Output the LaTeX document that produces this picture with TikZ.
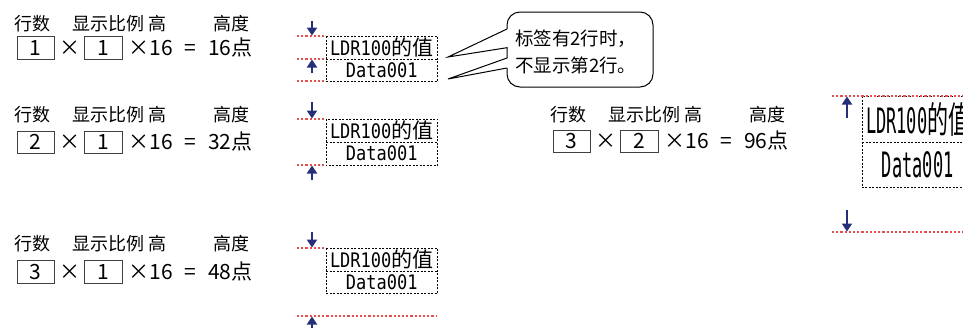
\documentclass[tikz,border=0pt]{standalone}
\usepackage{fontspec}
\usepackage{graphicx}
\usetikzlibrary{arrows.meta}
\setmainfont{Noto Sans CJK SC}
\newfontfamily\monofont{DejaVu Sans Mono}
\newfontfamily\cjkfont{Noto Sans CJK SC}
\definecolor{navy}{RGB}{38,48,120}
\definecolor{redd}{RGB}{230,80,80}
\tikzset{
  lbl/.style={inner sep=0pt, font=\fontsize{18}{20}\selectfont},
  num/.style={inner sep=0pt, font=\fontsize{21}{23}\selectfont, anchor=base},
  valbox/.style={draw=black!75, line width=0.9pt, inner sep=0pt},
  reddot/.style={draw=redd, line width=1.3pt, dash pattern=on 2.2pt off 2pt},
  blkdot/.style={draw=black, line width=1pt, dash pattern=on 2pt off 1.5pt},
  dimarrow/.style={draw=navy, line width=2.2pt, -{Triangle[width=10pt,length=8pt]}},
  cell/.style={inner sep=0pt, minimum width=111pt, anchor=north west},
}
\newcommand\ldrtxt{\scalebox{0.85}[1]{\fontsize{20}{22}\monofont LDR100}{\fontsize{21}{22}\cjkfont 的值}}
\newcommand\datatxt{\scalebox{0.85}[1]{\fontsize{20}{22}\monofont Data001}}
\newcommand\ldrbig{\scalebox{0.85}[1.75]{\fontsize{20}{22}\monofont LDR100}\scalebox{1}[1.75]{\fontsize{21}{22}\cjkfont 的值}}
\newcommand\databig{\scalebox{0.85}[1.75]{\fontsize{20}{22}\monofont Data001}}
% #1 xoff, #2 label y, #3 box top, #4 box bottom, #5 n1, #6 n2, #7 result, #8 name
\newcommand\calcblock[8]{%
  \begin{scope}[xshift=#1pt]
    \node[lbl] (rows#8) at (32,#2) {行数};
    \node[lbl, anchor=west] (ratio#8) at (72.5,#2) {显示比例 高};
    \node[lbl] (hgt#8) at (231.5,#2) {高度};
    \node[valbox, minimum width=37pt, minimum height={#4pt-#3pt}] (ba#8) at ({35.5},{(#3+#4)/2}) {};
    \node[valbox, minimum width=38pt, minimum height={#4pt-#3pt}] (bb#8) at ({103},{(#3+#4)/2}) {};
    \node[num] (na#8) at ({35.5},{(#3+#4)/2+7.7}) {#5};
    \node[num] (nb#8) at ({103},{(#3+#4)/2+7.7}) {#6};
    \node[num] (x1#8) at ({69.5},{(#3+#4)/2+7.7}) {×};
    \node[num, anchor=base west] (x2#8) at ({128.5},{(#3+#4)/2+7.7}) {×16};
    \node[num] (eq#8) at ({190},{(#3+#4)/2+7.7}) {=};
    \node[num, anchor=base west] (res#8) at ({208},{(#3+#4)/2+7.7}) {#7};
  \end{scope}}
\begin{document}
\begin{tikzpicture}[x=1pt, y=-1pt]
\clip (0,0) rectangle (963,327);
\fill[white] (0,0) rectangle (963,327);

\calcblock{0}{23.5}{36}{59}{1}{1}{16点}{A}
\calcblock{0}{115}{131}{153}{2}{1}{32点}{B}
\calcblock{0}{243.5}{260}{283}{3}{1}{48点}{C}
\calcblock{536}{114.5}{130}{152}{3}{2}{96点}{D}

% ---- block A preview
\draw[reddot] (297,36) -- (325,36);
\draw[reddot] (297,59) -- (325,59);
\draw[reddot] (297,81) -- (325,81);
\node[cell, minimum height=23pt] (ca1) at (326,36) {\ldrtxt};
\node[cell, minimum height=22pt] (ca2) at (326,59) {\datatxt};
\draw[blkdot] (ca1.north west) rectangle (ca2.south east);
\draw[blkdot] (ca1.south west) -- (ca1.south east);
\draw[dimarrow] (312,21) -- (312,35.5);
\draw[dimarrow] (312,73) -- (312,59.5);

% ---- block B preview
\draw[reddot] (297,119) -- (325,119);
\draw[reddot] (297,165) -- (325,165);
\node[cell, minimum height=23pt] (cb1) at (326,119) {\ldrtxt};
\node[cell, minimum height=23pt] (cb2) at (326,142) {\datatxt};
\draw[blkdot] (cb1.north west) rectangle (cb2.south east);
\draw[blkdot] (cb1.south west) -- (cb1.south east);
\draw[dimarrow] (312,102) -- (312,118.5);
\draw[dimarrow] (312,180) -- (312,165.5);

% ---- block C preview
\draw[reddot] (297,248) -- (325,248);
\draw[reddot] (297,316) -- (437,316);
\node[cell, minimum height=23pt] (cc1) at (326,248) {\ldrtxt};
\node[cell, minimum height=22pt] (cc2) at (326,271) {\datatxt};
\draw[blkdot] (cc1.north west) rectangle (cc2.south east);
\draw[blkdot] (cc1.south west) -- (cc1.south east);
\draw[dimarrow] (312,232) -- (312,247.5);
\draw[dimarrow] (312,335) -- (312,316.5);

% ---- block D preview
\node[cell, minimum height=46pt] (cd1) at (862,96) {\ldrbig};
\node[cell, minimum height=45pt] (cd2) at (862,142) {\databig};
\draw[blkdot] (cd1.north west) rectangle (cd2.south east);
\draw[blkdot] (cd1.south west) -- (cd1.south east);
\draw[reddot] (832,96) -- (975,96);
\draw[reddot] (832,232) -- (975,232);
\draw[dimarrow] (847,118) -- (847,96.5);
\draw[dimarrow] (847,210) -- (847,231.5);

% ---- callout
\draw[line width=1pt, rounded corners=13pt] (507,29) -- (507,12) -- (653,12) -- (653,87) -- (507,87) -- (507,68);
\draw[line width=1pt, line join=miter] (507,68) -- (448,79) -- (507,58) -- (507,47.7) -- (448,57) -- (507,29);
\node[anchor=west, align=left, inner sep=0pt, font=\fontsize{18.5}{27}\selectfont] (note) at (515,51.5) {标签有2行时，\\不显示第2行。};
\end{tikzpicture}
\end{document}
